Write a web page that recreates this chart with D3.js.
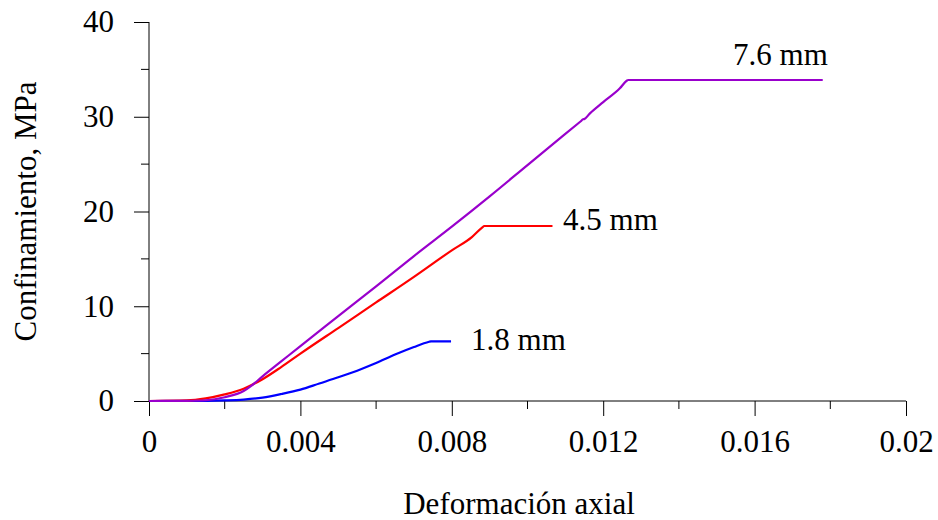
<!DOCTYPE html>
<html>
<head>
<meta charset="utf-8">
<script src="https://cdn.jsdelivr.net/npm/d3@7"></script>
<style>
  body { margin: 0; background: #fff; }
  svg text { font-family: "Liberation Serif", "Times New Roman", serif; fill: #000; }
</style>
</head>
<body>
<div id="plot"></div>
<script>
// Series data: [deformación axial, confinamiento MPa]
const serie18 = [[0, 0], [0.0015, 0.02], [0.002, 0.06], [0.0025, 0.15], [0.003, 0.36], [0.0035, 0.74],
  [0.004, 1.2], [0.0045, 1.85], [0.005, 2.5], [0.0055, 3.2], [0.006, 4.0], [0.0065, 4.9],
  [0.007, 5.7], [0.0074, 6.25], [0.00745, 6.3], [0.00798, 6.3]];
const serie45 = [[0, 0], [0.001, 0.06], [0.0015, 0.28], [0.002, 0.7], [0.0025, 1.3], [0.003, 2.3],
  [0.0035, 3.6], [0.004, 5.0], [0.005, 7.7], [0.006, 10.4], [0.007, 13.1], [0.008, 15.9],
  [0.00853, 17.3], [0.0088, 18.3], [0.00886, 18.47], [0.01066, 18.47]];
const serie76 = [[0, 0], [0.001, 0.02], [0.0015, 0.08], [0.002, 0.4], [0.0025, 1.05], [0.0027, 1.6],
  [0.003, 2.6], [0.0035, 4.2], [0.004, 5.8], [0.005, 8.95], [0.006, 12.1], [0.007, 15.3],
  [0.008, 18.4], [0.009, 21.6], [0.01, 24.9], [0.0114, 29.5], [0.01147, 29.73], [0.0115, 29.75],
  [0.01165, 30.36], [0.012, 31.55], [0.01244, 33.0], [0.01262, 33.8], [0.01266, 33.88], [0.0178, 33.88]];

const series = [
  { name: "1.8 mm", data: serie18, color: "#0000ff", label: [0.00851, 5.38] },
  { name: "4.5 mm", data: serie45, color: "#ff0000", label: [0.01094, 18.05] },
  { name: "7.6 mm", data: serie76, color: "#9900cc", label: [0.01543, 35.46] }
];

const xTicks = [0, 0.004, 0.008, 0.012, 0.016, 0.02];
const xTickLabels = ["0", "0.004", "0.008", "0.012", "0.016", "0.02"];
const xMinor = [0.002, 0.006, 0.01, 0.014, 0.018];
const yTicks = [0, 10, 20, 30, 40];
const yMinor = [5, 15, 25, 35];

const width = 938, height = 520;
const margin = { top: 22, right: 32, bottom: 119, left: 149 };

const svg = d3.select("#plot")
  .append("svg")
  .attr("width", width)
  .attr("height", height);

const x = d3.scaleLinear()
  .domain([0, 0.02])
  .range([margin.left, width - margin.right]);

const y = d3.scaleLinear()
  .domain([0, 40])
  .range([height - margin.bottom, margin.top]);

// x axis
const xAxis = svg.append("g")
  .attr("transform", `translate(0, ${y(0)})`)
  .call(d3.axisBottom(x).tickValues(xTicks).tickSize(15).tickPadding(14)
    .tickFormat((d, i) => xTickLabels[i]));
xAxis.append("g").selectAll("line")
  .data(xMinor)
  .enter()
  .append("line")
  .attr("x1", d => x(d)).attr("x2", d => x(d))
  .attr("y1", 0).attr("y2", 8)
  .attr("stroke", "#000");

// y axis
const yAxis = svg.append("g")
  .attr("transform", `translate(${x(0)}, 0)`)
  .call(d3.axisLeft(y).tickValues(yTicks).tickSize(15).tickPadding(20));
yAxis.append("g").selectAll("line")
  .data(yMinor)
  .enter()
  .append("line")
  .attr("y1", d => y(d)).attr("y2", d => y(d))
  .attr("x1", 0).attr("x2", -8)
  .attr("stroke", "#000");

svg.selectAll(".domain").attr("d", null);
xAxis.append("line").attr("x1", x(0)).attr("x2", x(0.02)).attr("stroke", "#000");
yAxis.append("line").attr("y1", y(0)).attr("y2", y(40)).attr("stroke", "#000");

svg.selectAll(".tick text")
  .style("font-size", "31px")
  .attr("fill", "#000");

// lines
const line = d3.line()
  .curve(d3.curveMonotoneX)
  .x(d => x(d[0]))
  .y(d => y(d[1]));

svg.selectAll(".serie")
  .data(series)
  .enter()
  .append("path")
  .attr("class", "serie")
  .attr("fill", "none")
  .attr("stroke", d => d.color)
  .attr("stroke-width", 2.2)
  .attr("d", d => line(d.data));

svg.selectAll(".label")
  .data(series)
  .enter()
  .append("text")
  .attr("class", "label")
  .attr("x", d => x(d.label[0]))
  .attr("y", d => y(d.label[1]))
  .style("font-size", "31px")
  .text(d => d.name);

// axis titles
svg.append("text")
  .attr("x", 519)
  .attr("y", 514)
  .attr("text-anchor", "middle")
  .style("font-size", "31px")
  .text("Deformación axial");

svg.append("text")
  .attr("transform", `translate(36, ${(y(0) + y(40)) / 2}) rotate(-90)`)
  .attr("text-anchor", "middle")
  .style("font-size", "31px")
  .text("Confinamiento, MPa");
</script>
</body>
</html>
